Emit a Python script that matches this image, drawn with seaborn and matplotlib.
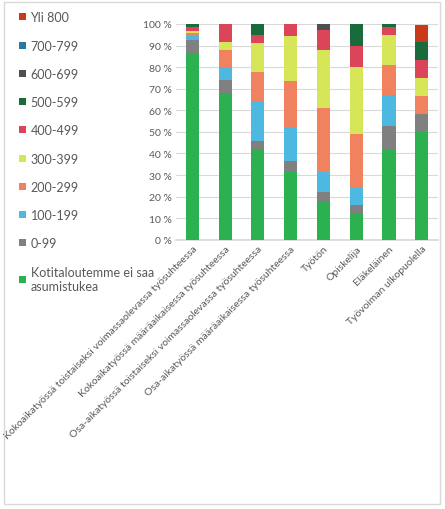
import numpy as np
import pandas as pd
import matplotlib
matplotlib.use("Agg")
import matplotlib.pyplot as plt
import seaborn as sns
from matplotlib.patches import Patch, Rectangle
from matplotlib.ticker import PercentFormatter

sns.set_theme(style="white")
plt.rcParams["font.family"] = ["Lato", "DejaVu Sans"]

# Categories (x-axis)
categories = [
    "Kokoaikatyössä toistaiseksi voimassaolevassa työsuhteessa",
    "Kokoaikatyössä määräaikaisessa työsuhteessa",
    "Osa-aikatyössä toistaiseksi voimassaolevassa työsuhteessa",
    "Osa-aikatyössä määräaikaisessa työsuhteessa",
    "Työtön",
    "Opiskelija",
    "Eläkeläinen",
    "Työvoiman ulkopuolella",
]

# Series, bottom to top of the stack (% shares)
series = [
    "Kotitaloutemme ei saa asumistukea", "0-99", "100-199", "200-299", "300-399",
    "400-499", "500-599", "600-699", "700-799", "Yli 800",
]
ei_saa = [86.7, 68.2, 42.0, 31.4, 18.1, 12.2, 41.7, 50.0]
s_0_99 = [5.7, 6.0, 3.9, 5.1, 4.2, 4.0, 11.0, 8.3]
s_100 = [1.9, 5.7, 18.6, 15.7, 9.2, 7.8, 14.4, 0.0]
s_200 = [1.3, 8.0, 13.4, 21.4, 29.6, 25.1, 13.9, 8.3]
s_300 = [1.2, 3.9, 13.3, 21.0, 27.0, 31.0, 14.1, 8.4]
s_400 = [2.0, 8.2, 3.7, 5.4, 9.3, 9.9, 3.7, 8.3]
s_500 = [1.0, 0.0, 5.1, 0.0, 0.0, 10.0, 1.2, 8.2]
s_600 = [0.2, 0.0, 0.0, 0.0, 2.6, 0.0, 0.0, 0.0]
s_700 = [0.0, 0.0, 0.0, 0.0, 0.0, 0.0, 0.0, 0.0]
yli_800 = [0.0, 0.0, 0.0, 0.0, 0.0, 0.0, 0.0, 8.2]

colors = ["#2bb14f", "#808080", "#4db8e0", "#f0825f", "#d7e558",
          "#dc4559", "#1a6b3b", "#4f4f4f", "#2a78a0", "#c93a1b"]

values = [ei_saa, s_0_99, s_100, s_200, s_300, s_400, s_500, s_600, s_700, yli_800]
df = pd.DataFrame({name: vals for name, vals in zip(series, values)})
df["kategoria"] = categories

fig = plt.figure(figsize=(4.45, 5.10), dpi=100)
ax = fig.add_axes([0.3955, 0.528, 0.589, 0.423])

# stacked bars, drawn top series first so lower ones paint over
cum = df[series].cumsum(axis=1)
for name, col in reversed(list(zip(series, colors))):
    sns.barplot(x=categories, y=cum[name].values, color=col, width=0.4,
                saturation=1, ax=ax, linewidth=0, zorder=3)

ax.set_ylim(0, 100)
ax.set_xlim(-0.5, 7.5)
ax.set_yticks(np.arange(0, 101, 10))
ax.yaxis.set_major_formatter(PercentFormatter(decimals=0, symbol=" %"))
ax.grid(axis="y", color="#d9d9d9", linewidth=0.8, zorder=0)
for s in ["top", "right", "left"]:
    ax.spines[s].set_visible(False)
ax.spines["bottom"].set_color("#d9d9d9")
ax.tick_params(axis="both", length=0, labelsize=7.5, colors="#595959", pad=3)
ax.set_xticks(range(len(categories)))
ax.set_xticklabels(categories, rotation=45, ha="right", rotation_mode="anchor")
ax.set_xlabel("")
ax.set_ylabel("")

# legend on the left, top series first
labels = [s if s != series[0] else "Kotitaloutemme ei saa\nasumistukea" for s in series]
handles = [Patch(facecolor=c, edgecolor="none") for c in colors]
fig.legend(handles[::-1], labels[::-1], loc="upper left", bbox_to_anchor=(0.018, 0.998),
           frameon=False, fontsize=9, labelcolor="#595959", handlelength=0.5,
           handleheight=0.5, handletextpad=0.4, labelspacing=1.3)

# chart border
fig.patches.append(Rectangle((4 / 445, 5 / 510), 436 / 445, 502 / 510, transform=fig.transFigure,
                             fill=False, edgecolor="#d9d9d9", linewidth=1))

fig.savefig("out.png", dpi=100)
